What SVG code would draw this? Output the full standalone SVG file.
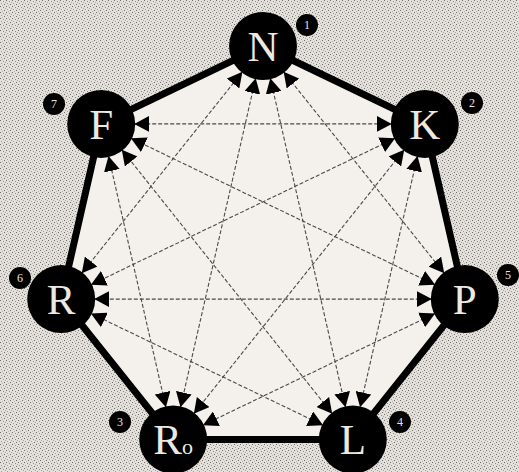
<svg xmlns="http://www.w3.org/2000/svg" width="519" height="472" viewBox="0 0 519 472">
<style>
.node{fill:#000}
.lbl{font-family:"Liberation Serif","DejaVu Serif",serif;font-size:43px;fill:#ece9e3;text-anchor:middle}
.badge{fill:#000}
.num{font-family:"Liberation Serif","DejaVu Serif",serif;font-size:12px;fill:#e8e5e0;text-anchor:middle}
.edge{stroke:#000;stroke-width:7;stroke-linecap:round}
.diag{stroke:#4a4a4a;stroke-width:1.1;stroke-dasharray:4 2;fill:none;marker-start:url(#ah);marker-end:url(#ah)}
</style>
<defs>
<pattern id="tex" width="6" height="6" patternUnits="userSpaceOnUse">
<rect width="6" height="6" fill="#e4e1dc"/>
<rect x="0" y="0" width="1" height="1" fill="#6f6c67"/>
<rect x="3" y="1" width="1" height="1" fill="#8e8b86"/>
<rect x="1" y="3" width="1" height="1" fill="#a09d98"/>
<rect x="4" y="4" width="1" height="1" fill="#6e6b66"/>
<rect x="2" y="5" width="1" height="1" fill="#b5b2ad"/>
<rect x="5" y="2" width="1" height="1" fill="#a5a29d"/>
</pattern>
<marker id="ah" viewBox="0 0 15 16" refX="15" refY="8" markerWidth="15" markerHeight="16" markerUnits="userSpaceOnUse" orient="auto-start-reverse">
<path d="M0,0 L15,8 L0,16 Z" fill="#000"/>
</marker>
</defs>
<rect width="519" height="472" fill="url(#tex)"/>
<polygon points="263,46 424.8,123.9 464.8,299.1 352.8,439.5 173.2,439.5 61.2,299.1 101.2,123.9" fill="#f4f1ec"/>
<g id="connectors">
<line class="edge" x1="263" y1="46" x2="424.8" y2="123.9"/>
<line class="edge" x1="424.8" y1="123.9" x2="464.8" y2="299.1"/>
<line class="edge" x1="464.8" y1="299.1" x2="352.8" y2="439.5"/>
<line class="edge" x1="352.8" y1="439.5" x2="173.2" y2="439.5"/>
<line class="edge" x1="173.2" y1="439.5" x2="61.2" y2="299.1"/>
<line class="edge" x1="61.2" y1="299.1" x2="101.2" y2="123.9"/>
<line class="edge" x1="101.2" y1="123.9" x2="263" y2="46"/>
<line class="diag" x1="283.6" y1="71.8" x2="444.2" y2="273.3"/>
<line class="diag" x1="417.5" y1="156.1" x2="360.1" y2="407.3"/>
<line class="diag" x1="435.1" y1="313.4" x2="202.9" y2="425.2"/>
<line class="diag" x1="323.1" y1="425.2" x2="90.9" y2="313.4"/>
<line class="diag" x1="165.9" y1="407.3" x2="108.5" y2="156.1"/>
<line class="diag" x1="81.8" y1="273.3" x2="242.4" y2="71.8"/>
<line class="diag" x1="134.2" y1="123.9" x2="391.8" y2="123.9"/>
<line class="diag" x1="270.3" y1="78.2" x2="345.5" y2="407.3"/>
<line class="diag" x1="255.7" y1="78.2" x2="180.5" y2="407.3"/>
<line class="diag" x1="404.2" y1="149.7" x2="193.8" y2="413.7"/>
<line class="diag" x1="395.1" y1="138.2" x2="90.9" y2="284.8"/>
<line class="diag" x1="431.8" y1="299.1" x2="94.2" y2="299.1"/>
<line class="diag" x1="435.1" y1="284.8" x2="130.9" y2="138.2"/>
<line class="diag" x1="332.2" y1="413.7" x2="121.8" y2="149.7"/>
</g>
<g id="node-N"><circle class="node" cx="263" cy="46" r="34"/><text class="lbl" x="263" y="61">N</text><circle class="badge" cx="307" cy="25" r="11"/><text class="num" x="307" y="29">1</text></g>
<g id="node-K"><circle class="node" cx="424.8" cy="123.9" r="34"/><text class="lbl" x="424.8" y="139">K</text><circle class="badge" cx="472" cy="103" r="11"/><text class="num" x="472" y="107">2</text></g>
<g id="node-P"><circle class="node" cx="464.8" cy="299.1" r="34"/><text class="lbl" x="464.8" y="314">P</text><circle class="badge" cx="508" cy="275" r="11"/><text class="num" x="508" y="279">5</text></g>
<g id="node-L"><circle class="node" cx="352.8" cy="439.5" r="34"/><text class="lbl" x="352.8" y="454">L</text><circle class="badge" cx="400" cy="422" r="11"/><text class="num" x="400" y="426">4</text></g>
<g id="node-Ro"><circle class="node" cx="173.2" cy="439.5" r="34"/><text class="lbl" x="173.2" y="454">R<tspan font-size="22">o</tspan></text><circle class="badge" cx="120" cy="422" r="11"/><text class="num" x="120" y="426">3</text></g>
<g id="node-R"><circle class="node" cx="61.2" cy="299.1" r="34"/><text class="lbl" x="61.2" y="314">R</text><circle class="badge" cx="20" cy="278" r="11"/><text class="num" x="20" y="282">6</text></g>
<g id="node-F"><circle class="node" cx="101.2" cy="123.9" r="34"/><text class="lbl" x="101.2" y="139">F</text><circle class="badge" cx="54" cy="104" r="11"/><text class="num" x="54" y="108">7</text></g>
</svg>
